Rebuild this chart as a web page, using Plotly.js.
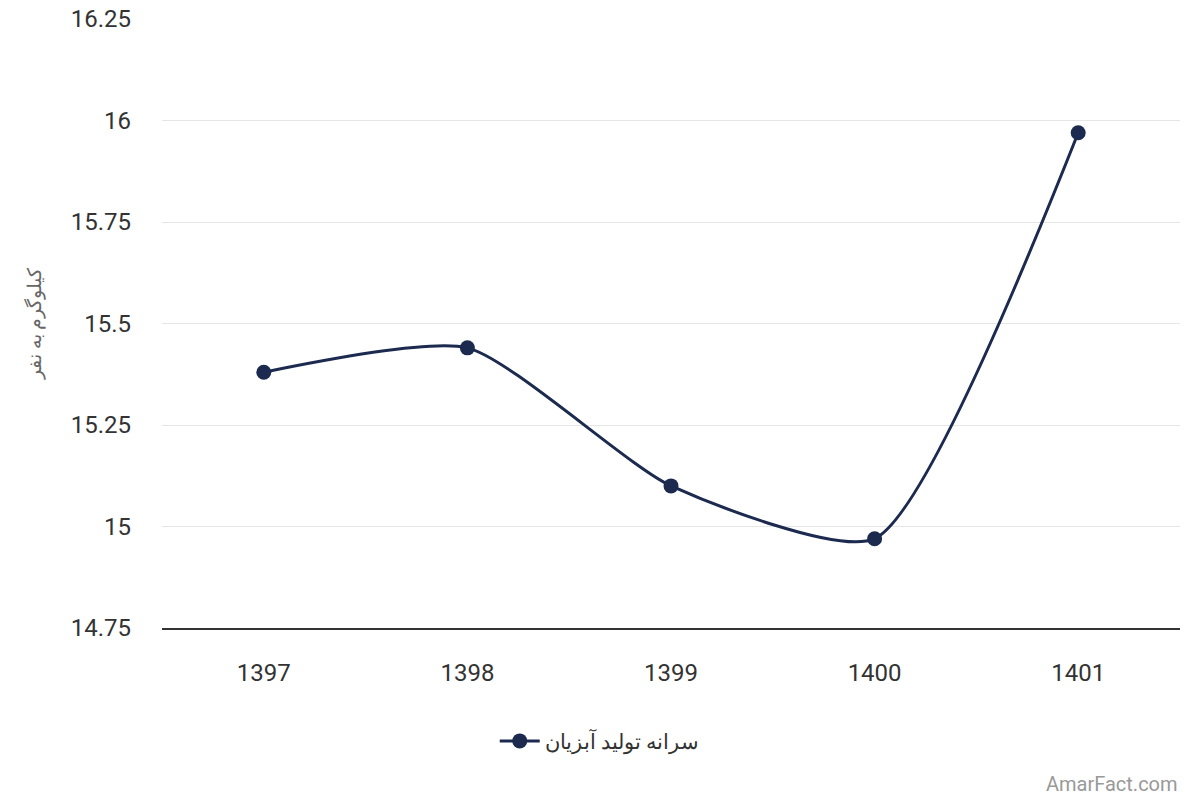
<!DOCTYPE html>
<html>
<head>
<meta charset="utf-8">
<script src="https://cdn.plot.ly/plotly-3.0.1.min.js"></script>
<style>
  html, body { margin: 0; padding: 0; background: #fff; }
  #graph { width: 1200px; height: 800px; }
</style>
</head>
<body>
<div id="graph"></div>
<script>
// years (Persian calendar) and per-capita aquatic production, kg per person
var years = ['1397', '1398', '1399', '1400', '1401'];
var perCapita = [15.38, 15.44, 15.10, 14.97, 15.97];
var seriesName = 'سرانه تولید آبزیان';
var yTitle = 'کیلوگرم به نفر';

var trace0 = {
    x: years,
    y: perCapita,
    name: seriesName,
    type: 'scatter',
    mode: 'lines+markers',
    line: {
        color: '#1b2a4e',
        width: 3,
        shape: 'spline',
        smoothing: 0.6
    },
    marker: {
        color: '#1b2a4e',
        size: 15
    }
};

var layout = {
    width: 1200,
    height: 800,
    margin: {l: 162, r: 20, t: 19, b: 172},
    paper_bgcolor: '#ffffff',
    plot_bgcolor: '#ffffff',
    font: {family: 'Roboto, Liberation Sans, Arial, sans-serif', color: '#333333', size: 20},
    showlegend: true,
    legend: {
        orientation: 'h',
        x: 0.43,
        xanchor: 'center',
        y: -0.186,
        yanchor: 'middle',
        itemwidth: 40,
        font: {size: 21, color: '#333333'}
    },
    xaxis: {
        type: 'category',
        range: [-0.5, 4.5],
        showgrid: false,
        zeroline: false,
        showline: true,
        linecolor: '#333333',
        linewidth: 1.5,
        ticks: '',
        ticklabelstandoff: 23,
        tickfont: {size: 24, color: '#333333'}
    },
    yaxis: {
        range: [14.75, 16.25],
        dtick: 0.25,
        tick0: 14.75,
        showgrid: true,
        gridcolor: '#e6e6e6',
        gridwidth: 1,
        zeroline: false,
        showline: false,
        ticks: '',
        ticklabelstandoff: 30,
        tickfont: {size: 24, color: '#333333'},
        title: {
            text: yTitle,
            font: {size: 19, color: '#666666'},
            standoff: 24
        }
    },
    annotations: [{
        text: 'AmarFact.com',
        xref: 'paper',
        yref: 'paper',
        x: 1,
        y: -0.256,
        xanchor: 'right',
        yanchor: 'middle',
        showarrow: false,
        font: {size: 20, color: '#999999'}
    }]
};

var graph = document.getElementById('graph');
Plotly.newPlot(graph, [trace0], layout, {staticPlot: true});
</script>
</body>
</html>
